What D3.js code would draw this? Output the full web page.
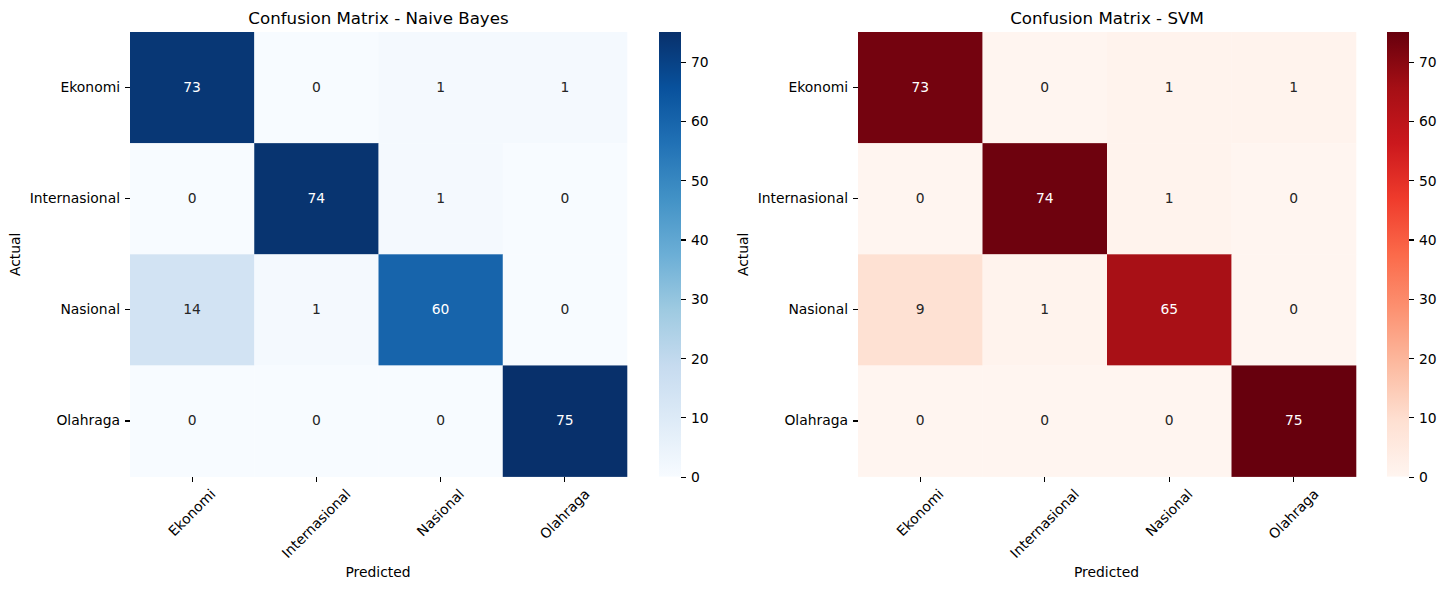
<!DOCTYPE html>
<html>
<head>
<meta charset="utf-8">
<script src="https://cdn.jsdelivr.net/npm/d3@7"></script>
<style>
  html, body { margin: 0; padding: 0; background: #fff; }
  svg { display: block; }
  text { font-family: "DejaVu Sans", sans-serif; fill: #000; }
  .tick text { font-size: 13.89px; fill: #000; }
  .tick line { stroke: #000; stroke-width: 1.1px; shape-rendering: crispEdges; }
  .cell-label { font-size: 13.89px; }
  .axis-label { font-size: 13.89px; fill: #000; }
  .title { font-size: 16.67px; fill: #000; }
</style>
</head>
<body>
<div id="chart"></div>
<script>
var width = 1446,
  height = 590,
  plotTop = 32,
  plotBottom = 476.6,
  tickLength = 5,
  tickPad = 5;

var labels = ["Ekonomi", "Internasional", "Nasional", "Olahraga"];
var barTicks = [0, 10, 20, 30, 40, 50, 60, 70];
var minValue = 0,
  maxValue = 75;

var naiveBayesValues = [
  [73, 0, 1, 1],
  [0, 74, 1, 0],
  [14, 1, 60, 0],
  [0, 0, 0, 75]
];

var svmValues = [
  [73, 0, 1, 1],
  [0, 74, 1, 0],
  [9, 1, 65, 0],
  [0, 0, 0, 75]
];

var svg = d3.select("#chart").append("svg")
  .attr("width", width)
  .attr("height", height);

var defs = svg.append("defs");

// same nine control points matplotlib uses, straight rgb between them
function makeColor(scheme) {
  var colors = scheme[9];
  var step = (maxValue - minValue) / (colors.length - 1);
  return d3.scaleLinear()
    .domain(colors.map(function (c, i) { return minValue + i * step; }))
    .range(colors)
    .interpolate(d3.interpolateRgb);
}

// seaborn picks the annotation colour from the luminance of the cell
function luminance(color) {
  var c = d3.rgb(color);
  var parts = [c.r, c.g, c.b].map(function (v) {
    v = v / 255;
    return v <= 0.03928 ? v / 12.92 : Math.pow((v + 0.055) / 1.055, 2.4);
  });
  return 0.2126 * parts[0] + 0.7152 * parts[1] + 0.0722 * parts[2];
}

function drawHeatmap(cfg) {
  var color = makeColor(cfg.scheme);

  var x = d3.scaleBand().domain(labels).range([cfg.left, cfg.right]);
  var y = d3.scaleBand().domain(labels).range([plotTop, plotBottom]);
  var g = svg.append("g").attr("id", cfg.id);

  var cells = [];
  cfg.values.forEach(function (row, r) {
    row.forEach(function (v, c) {
      cells.push({ actual: labels[r], predicted: labels[c], value: v });
    });
  });

  g.selectAll("rect.cell")
    .data(cells)
    .enter().append("rect")
    .attr("class", "cell")
    .attr("x", function (d) { return x(d.predicted); })
    .attr("y", function (d) { return y(d.actual); })
    .attr("width", x.bandwidth() + 0.3)
    .attr("height", y.bandwidth() + 0.3)
    .attr("fill", function (d) { return color(d.value); });

  g.selectAll("text.cell-label")
    .data(cells)
    .enter().append("text")
    .attr("class", "cell-label")
    .attr("x", function (d) { return x(d.predicted) + x.bandwidth() / 2; })
    .attr("y", function (d) { return y(d.actual) + y.bandwidth() / 2 - 0.7; })
    .attr("dy", "0.36em")
    .attr("text-anchor", "middle")
    .style("fill", function (d) { return luminance(color(d.value)) > 0.408 ? "#262626" : "#ffffff"; })
    .text(function (d) { return d.value; });

  var yAxis = g.append("g")
    .attr("transform", "translate(" + cfg.left + ",0)")
    .call(d3.axisLeft(y).tickSize(tickLength).tickPadding(tickPad));
  yAxis.select(".domain").remove();
  yAxis.selectAll(".tick text").attr("dy", "0.3em");

  var xAxis = g.append("g")
    .attr("transform", "translate(0," + plotBottom + ")")
    .call(d3.axisBottom(x).tickSize(tickLength).tickPadding(tickPad));
  xAxis.select(".domain").remove();

  // rotated 45deg, with the bounding box centred under the tick
  xAxis.selectAll(".tick text")
    .attr("text-anchor", "middle")
    .attr("dy", "0.36em")
    .attr("y", 0)
    .attr("transform", function () {
      var box = (this.getComputedTextLength() + 13.89) * Math.SQRT1_2;
      return "translate(-0.3," + (tickLength + tickPad + box / 2) + ") rotate(-45)";
    });

  var midX = (cfg.left + cfg.right) / 2;

  g.append("text")
    .attr("class", "title")
    .attr("x", midX)
    .attr("y", 24)
    .attr("text-anchor", "middle")
    .text(cfg.title);

  g.append("text")
    .attr("class", "axis-label")
    .attr("x", midX - 0.5)
    .attr("y", 577)
    .attr("text-anchor", "middle")
    .text("Predicted");

  g.append("text")
    .attr("class", "axis-label")
    .attr("transform", "translate(" + (cfg.left - 110) + "," + ((plotTop + plotBottom) / 2) + ") rotate(-90)")
    .attr("text-anchor", "middle")
    .text("Actual");

  // colorbar
  var gradient = defs.append("linearGradient")
    .attr("id", cfg.id + "-gradient")
    .attr("x1", 0).attr("x2", 0)
    .attr("y1", 1).attr("y2", 0);

  cfg.scheme[9].forEach(function (c, i) {
    gradient.append("stop")
      .attr("offset", i / 8)
      .attr("stop-color", c);
  });

  var barScale = d3.scaleLinear()
    .domain([minValue, maxValue])
    .range([plotBottom, plotTop]);

  g.append("rect")
    .attr("x", cfg.barLeft)
    .attr("y", plotTop)
    .attr("width", cfg.barWidth)
    .attr("height", plotBottom - plotTop)
    .attr("fill", "url(#" + cfg.id + "-gradient)");

  var barAxis = g.append("g")
    .attr("transform", "translate(" + (cfg.barLeft + cfg.barWidth) + ",0)")
    .call(d3.axisRight(barScale).tickValues(barTicks).tickSize(tickLength).tickPadding(tickPad));
  barAxis.select(".domain").remove();
  barAxis.selectAll(".tick text").attr("dy", "0.36em");
}

drawHeatmap({
  id: "naive-bayes",
  title: "Confusion Matrix - Naive Bayes",
  values: naiveBayesValues,
  scheme: d3.schemeBlues,
  left: 130,
  right: 627,
  barLeft: 659,
  barWidth: 22
});

drawHeatmap({
  id: "svm",
  title: "Confusion Matrix - SVM",
  values: svmValues,
  scheme: d3.schemeReds,
  left: 858,
  right: 1356,
  barLeft: 1387,
  barWidth: 22
});
</script>
</body>
</html>
